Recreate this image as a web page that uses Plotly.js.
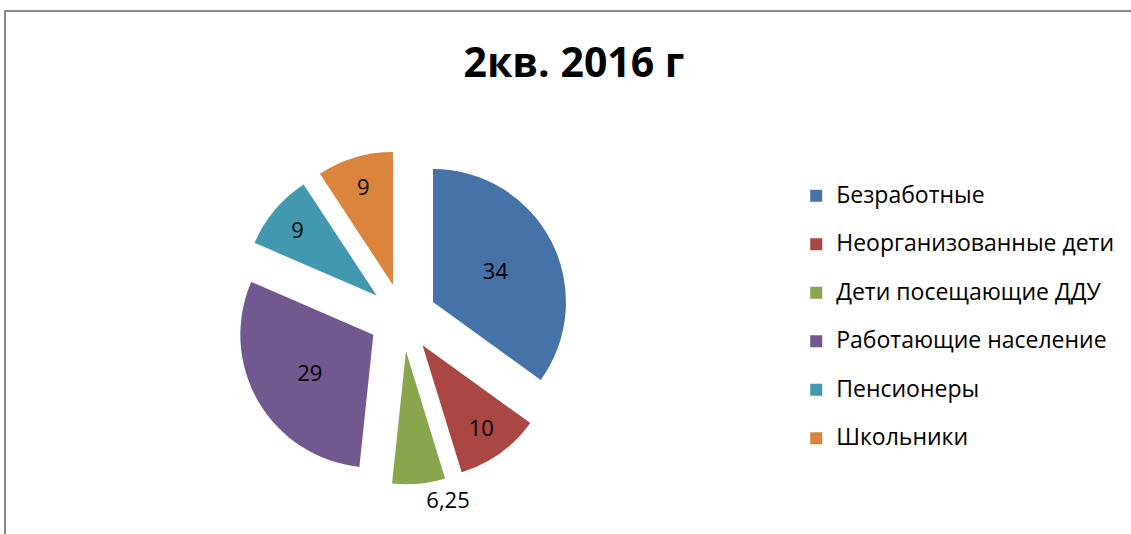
<!DOCTYPE html>
<html>
<head>
<meta charset="utf-8">
<script src="https://cdn.plot.ly/plotly-3.0.1.min.js"></script>
<style>
  html, body { margin: 0; padding: 0; background: #fff; }
  #wrap { position: relative; width: 1131px; height: 534px; overflow: hidden; }
  #chart { width: 1131px; height: 534px; }
  #frame { position: absolute; left: 4px; top: 10px; width: 1300px; height: 700px;
           border-left: 2px solid #8a8a8a; border-top: 2px solid #8a8a8a; pointer-events: none; }
</style>
</head>
<body>
<div id="wrap">
  <div id="chart"></div>
  <div id="frame"></div>
</div>
<script>
const chartTitle = '2кв. 2016 г';
const categories = ['Безработные', 'Неорганизованные дети', 'Дети посещающие ДДУ',
                    'Работающие население', 'Пенсионеры', 'Школьники'];
const values = [34, 10, 6.25, 29, 9, 9];
const colors = ['#4572A7', '#AA4643', '#89A54E', '#71588F', '#4198AF', '#DB843D'];
const textPositions = ['inside', 'inside', 'outside', 'inside', 'inside', 'inside'];

const legendLabels = categories.map(c => '<span style="font-size:23px">' + c + '</span><br> ');

const trace = {
  type: 'pie',
  labels: legendLabels,
  values: values,
  sort: false,
  direction: 'clockwise',
  rotation: 0,
  pull: 0.256,
  marker: { colors: colors, line: { width: 0 } },
  textinfo: 'value',
  textposition: textPositions,
  insidetextorientation: 'horizontal',
  textfont: { family: 'Open Sans, sans-serif', size: 22, color: '#000' },
  insidetextfont: { family: 'Open Sans, sans-serif', size: 22, color: '#000' },
  outsidetextfont: { family: 'Open Sans, sans-serif', size: 22, color: '#000' },
  domain: { x: [0.2084, 0.5037], y: [0.0927, 0.7182] },
  hoverinfo: 'label+value'
};

const layout = {
  width: 1131, height: 534,
  margin: { l: 0, r: 0, t: 0, b: 0 },
  paper_bgcolor: '#fff',
  separators: ', ',
  title: {
    text: '<b>' + chartTitle + '</b>',
    x: 0.5075, xanchor: 'center', xref: 'paper',
    y: 0.882, yanchor: 'middle', yref: 'container',
    font: { family: 'Open Sans, sans-serif', size: 41, color: '#000' }
  },
  showlegend: true,
  legend: {
    x: 0.704, xanchor: 'left', y: 0.667, yanchor: 'top',
    valign: 'top',
    bgcolor: 'rgba(0,0,0,0)',
    font: { family: 'Open Sans, sans-serif', size: 17.5, color: '#000' }
  }
};

Plotly.newPlot('chart', [trace], layout, { displayModeBar: false, staticPlot: true });
</script>
</body>
</html>
